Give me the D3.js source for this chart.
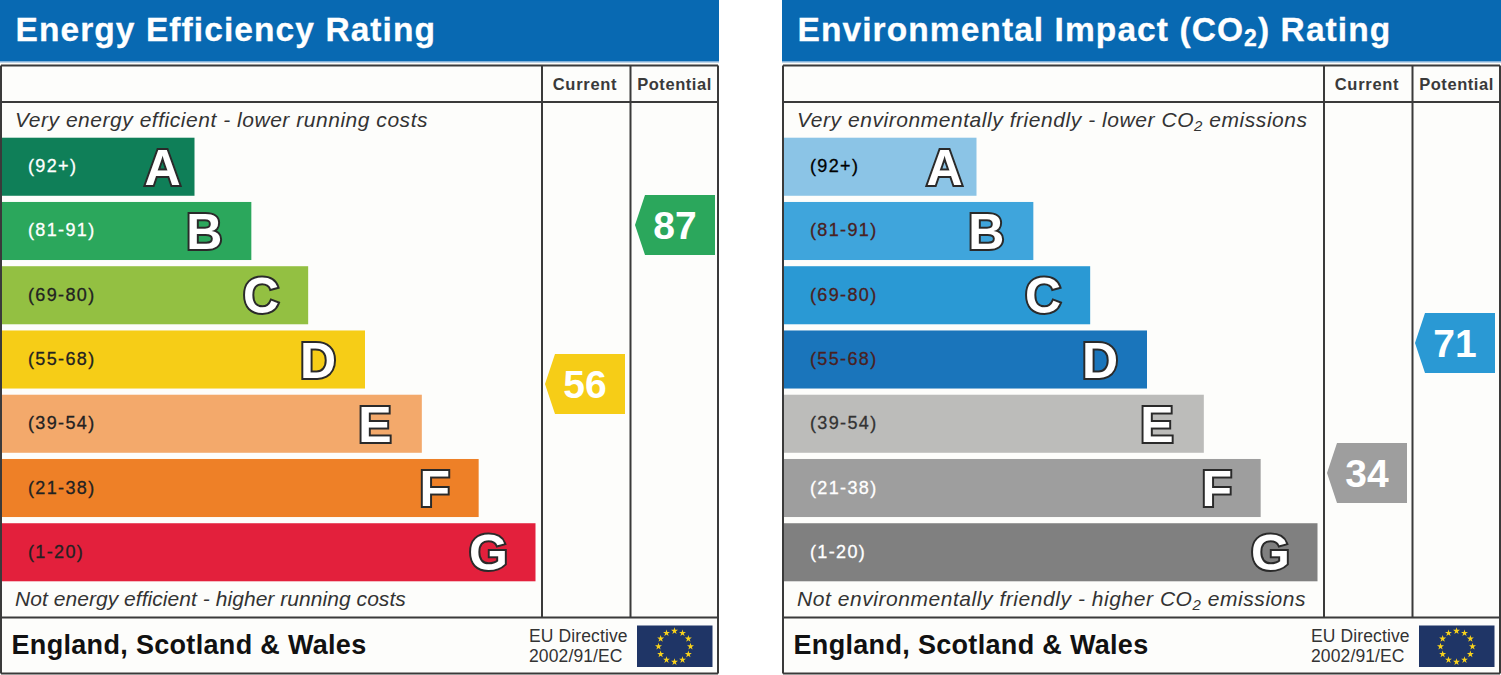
<!DOCTYPE html>
<html><head><meta charset="utf-8">
<script src="https://cdn.jsdelivr.net/npm/d3@7"></script>
<style>html,body{margin:0;padding:0;background:#fff}svg{display:block}text{font-family:"Liberation Sans",Arial,sans-serif}</style>
</head><body><svg id="c" width="1501" height="675"></svg>
<script>
const bandLetters = ["A","B","C","D","E","F","G"];
const bandRanges = ["(92+)","(81-91)","(69-80)","(55-68)","(39-54)","(21-38)","(1-20)"];
const bandSteps = [1,2,3,4,5,6,7];
const energyColors = ["#0f7f58","#2ba75c","#93c042","#f6cd17","#f3a96b","#ee8027","#e3203c"];
const energyLabelColors = ["#fff","#fff","#222","#222","#222","#222","#222"];
const envColors = ["#8bc4e6","#3fa5dc","#2a99d4","#1a75bb","#bcbcba","#9e9e9e","#808080"];
const envLabelColors = ["#000","#4a2020","#4a2020","#4a2020","#333","#fff","#fff"];
const energyCurrent = 56, energyPotential = 87;
const envCurrent = 34, envPotential = 71;
const scoreKnots = [87,71,56,34];
const scoreKnotY = [225,343,384,473];

const svg = d3.select("#c");
const x = d3.scaleLinear().domain([1,7]).range([194.5,535.5]);
const y = d3.scaleBand().domain(bandLetters).range([134.5,584.5]).paddingInner(0.0965).paddingOuter(0.05);
const yScore = d3.scaleLinear().domain(scoreKnots).range(scoreKnotY);
const ink = "#3a3a3a";

function panel(ox, cfg){
  const g = svg.append("g").attr("transform",`translate(${ox},0)`);
  g.append("rect").attr("x",0).attr("y",0).attr("width",719).attr("height",675).attr("fill","#fdfdfb");
  g.append("rect").attr("x",0).attr("y",0).attr("width",719).attr("height",61).attr("fill","#0869b2");
  g.append("rect").attr("x",0).attr("y",61).attr("width",719).attr("height",1.5).attr("fill","#7fb0da");
  const rich=(sel,parts,subSize,subDy)=>parts.forEach(p=>{const s=sel.append("tspan").text(p[0]);
    if(p[1]) s.attr("font-size",subSize).attr("dy",subDy); else if(p[2]) s.attr("dy",-subDy);});
  const t = g.append("text").attr("x",15.5).attr("y",41).attr("fill","#fff").attr("font-size",33.5).attr("font-weight",700).attr("letter-spacing",1.08)
    .attr("stroke","#fff").attr("stroke-width",0.3);
  rich(t,cfg.title,23,5);

  const lines=[[1,65.5,718,65.5],[1,102,718,102],[1,617.5,718,617.5],[1,673.5,718,673.5],[1,65.5,1,673.5],[718,65.5,718,673.5],[542,65.5,542,617.5],[630.5,65.5,630.5,617.5]];
  g.selectAll("line.f").data(lines).join("line").attr("x1",d=>d[0]).attr("y1",d=>d[1]).attr("x2",d=>d[2]).attr("y2",d=>d[3]).attr("stroke",ink).attr("stroke-width",2);

  g.append("text").attr("x",585).attr("y",90).attr("text-anchor","middle").attr("font-size",16.5).attr("font-weight",700).attr("fill",ink).attr("letter-spacing",0.7).text("Current");
  g.append("text").attr("x",674.5).attr("y",90).attr("text-anchor","middle").attr("font-size",16.5).attr("font-weight",700).attr("fill",ink).attr("letter-spacing",0.55).text("Potential");

  const cap=(parts,yy,ls)=>{ const c=g.append("text").attr("x",15).attr("y",yy).attr("font-size",21).attr("font-style","italic").attr("fill","#333").attr("letter-spacing",ls);
    rich(c,parts,15,4);};
  cap(cfg.top,127,cfg.topSpacing); cap(cfg.bottom,606,cfg.bottomSpacing);

  const bars=g.selectAll("g.b").data(bandLetters).join("g");
  bars.append("rect").attr("x",2).attr("y",d=>y(d)).attr("height",y.bandwidth()).attr("width",(d,i)=>x(bandSteps[i])-2).attr("fill",(d,i)=>cfg.colors[i]);
  bars.append("text").attr("x",28).attr("y",d=>y(d)+y.bandwidth()/2+5.5).attr("font-size",18).attr("letter-spacing",1.35).attr("stroke-width",0.3).attr("stroke",(d,i)=>cfg.labels[i]).attr("fill",(d,i)=>cfg.labels[i]).text((d,i)=>bandRanges[i]);
  bars.append("text").attr("x",(d,i)=>x(bandSteps[i])-(d==="A"?32:d==="F"?44:47)).attr("y",d=>y(d)+y.bandwidth()/2+18).attr("text-anchor","middle").attr("font-size",50).attr("font-weight",700)
    .attr("fill","#fff").attr("stroke","#2a2a2a").attr("stroke-width",4).attr("paint-order","stroke").attr("stroke-linejoin","miter").text(d=>d);

  const badge=(score,col,right)=>{
    const cy=yScore(score), h=30, w=80;
    const xr=right, xl=right-w;
    g.append("path").attr("d",d3.line()([[xl,cy],[xl+10,cy-h],[xr,cy-h],[xr,cy+h],[xl+10,cy+h]])+"Z").attr("fill",col);
    g.append("text").attr("x",xl+40).attr("y",cy+14).attr("text-anchor","middle").attr("font-size",39).attr("font-weight",700).attr("fill","#fff").text(score);
  };
  badge(cfg.current,cfg.colors[cfg.curBand],625);
  badge(cfg.potential,cfg.colors[cfg.potBand],cfg.potRight);

  g.append("text").attr("x",11.5).attr("y",654).attr("font-size",27).attr("font-weight",700).attr("letter-spacing",0.32).attr("fill","#111").text("England, Scotland & Wales");
  g.append("text").attr("x",529).attr("y",642).attr("font-size",17.5).attr("letter-spacing",0.12).attr("fill","#333").text("EU Directive");
  g.append("text").attr("x",529).attr("y",662).attr("font-size",17.5).attr("letter-spacing",0.12).attr("fill","#333").text("2002/91/EC");
  g.append("rect").attr("x",637).attr("y",625.5).attr("width",75.5).attr("height",41.5).attr("fill","#1f3566");
  const starAngles=d3.range(12).map(i=>i*30);
  g.selectAll("path.s").data(starAngles).join("path").attr("d",d3.symbol(d3.symbolStar,15))
    .attr("transform",a=>`translate(${674.5+16*Math.sin(a*Math.PI/180)},${646.5-15.5*Math.cos(a*Math.PI/180)})`).attr("fill","#f8d21c");
}

panel(0,{title:[["Energy Efficiency Rating"]],top:[["Very energy efficient - lower running costs"]],bottom:[["Not energy efficient - higher running costs"]],
  topSpacing:0.53,bottomSpacing:0.05,potRight:715,
  colors:energyColors,labels:energyLabelColors,current:energyCurrent,potential:energyPotential,curBand:3,potBand:1});
panel(782,{title:[["Environmental Impact (CO"],["2",1],[") Rating",0,1]],top:[["Very environmentally friendly - lower CO"],["2",1],[" emissions",0,1]],bottom:[["Not environmentally friendly - higher CO"],["2",1],[" emissions",0,1]],
  topSpacing:0.55,bottomSpacing:0.55,potRight:713,
  colors:envColors,labels:envLabelColors,current:envCurrent,potential:envPotential,curBand:5,potBand:2});
</script></body></html>
